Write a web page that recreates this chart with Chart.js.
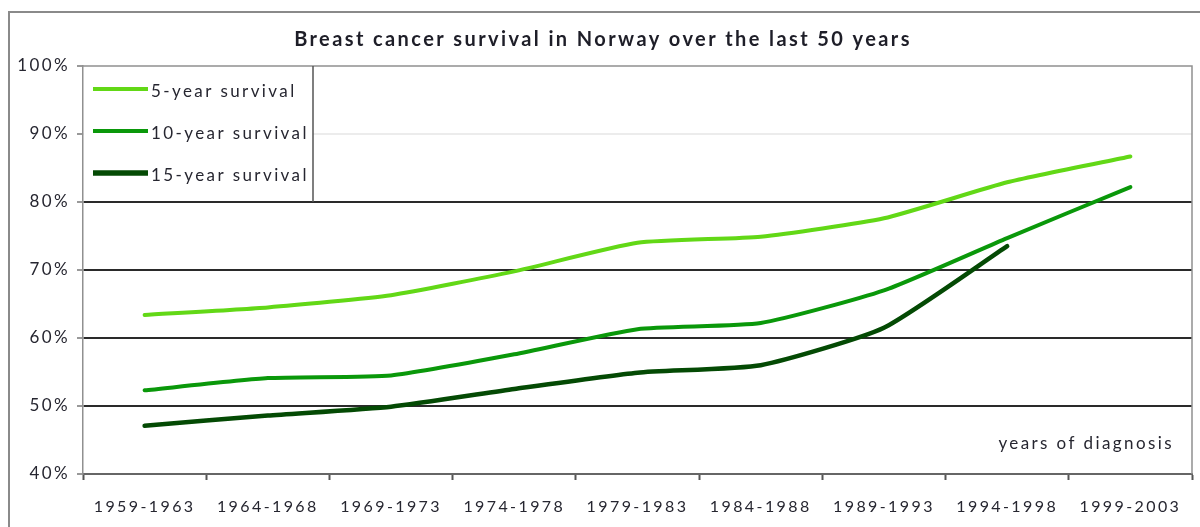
<!DOCTYPE html>
<html>
<head>
<meta charset="utf-8">
<script src="https://cdn.jsdelivr.net/npm/chart.js@4.4.1/dist/chart.umd.min.js"></script>
<style>
  html, body { margin: 0; padding: 0; background: #fff; }
  #wrap { position: relative; width: 1200px; height: 527px; }
</style>
</head>
<body>
<div id="wrap"><canvas id="survivalChart" width="1200" height="527"></canvas></div>
<script>
// periods of diagnosis
const periods = ['1959-1963', '1964-1968', '1969-1973', '1974-1978', '1979-1983',
                 '1984-1988', '1989-1993', '1994-1998', '1999-2003'];

// relative survival (%)
const surv5  = [63.4, 64.5, 66.3, 69.8, 74.0, 74.9, 77.6, 82.9, 86.7];
const surv10 = [52.3, 54.1, 54.5, 57.6, 61.3, 62.2, 67.0, 74.7, 82.2];
const surv15 = [47.1, 48.6, 49.9, 52.5, 54.9, 56.0, 61.5, 73.5, null];

const seriesNames = ['5-year survival', '10-year survival', '15-year survival'];
const seriesColors = ['#62d816', '#0a980a', '#044a04'];

const yTicks = [40, 50, 60, 70, 80, 90, 100];

const FONT = 'Lato, "Open Sans", sans-serif';
const TEXT = '#262630';

// outer frame, title, legend box and the in-plot note
const decor = {
    id: 'decor',
    beforeDraw(chart) {
        // wide spacing like the source image's text
        chart.ctx.letterSpacing = '2.4px';
    },
    afterDraw(chart) {
        const c = chart.ctx;
        const a = chart.chartArea;
        c.save();

        // outer frame
        c.strokeStyle = '#8a8a8a';
        c.lineWidth = 2;
        c.strokeRect(9, 12, 1300, 600);

        // plot frame: top and right
        c.strokeStyle = '#909090';
        c.lineWidth = 1.5;
        c.beginPath();
        c.moveTo(a.left, a.top);
        c.lineTo(a.right, a.top);
        c.lineTo(a.right, a.bottom);
        c.stroke();

        // title
        c.fillStyle = '#1e1e28';
        c.font = 'bold 20px ' + FONT;
        c.letterSpacing = '2.4px';
        c.textAlign = 'center';
        c.textBaseline = 'middle';
        c.fillText('Breast cancer survival in Norway over the last 50 years', 603, 40);

        // legend box
        const y80 = chart.scales.y.getPixelForValue(80);
        const boxRight = 313;
        c.fillStyle = '#fff';
        c.fillRect(a.left + 1, a.top + 1, boxRight - a.left - 1, y80 - a.top - 2);
        c.strokeStyle = '#555';
        c.lineWidth = 1.5;
        c.beginPath();
        c.moveTo(boxRight, a.top);
        c.lineTo(boxRight, y80);
        c.stroke();

        const rows = [89, 131, 173];
        const widths = [4, 4, 5.5];
        c.font = '17px ' + FONT;
        c.textAlign = 'left';
        seriesNames.forEach((name, i) => {
            c.strokeStyle = seriesColors[i];
            c.lineWidth = widths[i];
            c.lineCap = 'butt';
            c.beginPath();
            c.moveTo(93, rows[i]);
            c.lineTo(148, rows[i]);
            c.stroke();
            c.fillStyle = TEXT;
            c.fillText(name, 151, rows[i] + 3);
        });

        // axis note
        c.font = '17px ' + FONT;
        c.textAlign = 'right';
        c.fillStyle = TEXT;
        c.fillText('years of diagnosis', 1174, 444);

        c.restore();
    }
};

const ctx = document.getElementById('survivalChart');

new Chart(ctx, {
    type: 'line',
    data: {
        labels: periods,
        datasets: [
            { label: seriesNames[0], data: surv5,  borderColor: seriesColors[0], borderWidth: 4 },
            { label: seriesNames[1], data: surv10, borderColor: seriesColors[1], borderWidth: 4 },
            { label: seriesNames[2], data: surv15, borderColor: seriesColors[2], borderWidth: 4.5 },
        ]
    },
    options: {
        responsive: false,
        animation: false,
        devicePixelRatio: 1,
        layout: { padding: { left: 10, right: 8, top: 66, bottom: 0 } },
        elements: {
            point: { radius: 0 },
            line: { tension: 0.18, borderCapStyle: 'round', borderJoinStyle: 'round' }
        },
        spanGaps: false,
        scales: {
            x: {
                offset: true,
                grid: {
                    offset: true,
                    drawOnChartArea: false,
                    drawTicks: true,
                    tickLength: 6,
                    tickColor: '#555',
                    tickWidth: 2
                },
                border: { display: true, color: '#666', width: 2 },
                ticks: {
                    color: TEXT,
                    font: { family: FONT, size: 16 },
                    padding: 17,
                    maxRotation: 0,
                    autoSkip: false
                },
                afterFit(scale) { scale.height = 53; }
            },
            y: {
                min: 40,
                max: 100,
                afterBuildTicks(scale) { scale.ticks = yTicks.map(v => ({ value: v })); },
                grid: {
                    color: (c) => {
                        const v = c.tick && c.tick.value;
                        if (v === 100 || v === 40) return 'rgba(0,0,0,0)';
                        if (v === 90) return '#ececec';
                        return '#2a2a2a';
                    },
                    lineWidth: 2,
                    drawTicks: true,
                    tickLength: 6,
                    tickColor: '#777',
                    tickWidth: 1.5
                },
                border: { display: true, color: '#909090', width: 1.5 },
                ticks: {
                    color: TEXT,
                    font: { family: FONT, size: 17 },
                    padding: 7,
                    callback: (v) => v + '%'
                },
                afterFit(scale) { scale.width = 73; }
            }
        },
        plugins: {
            legend: { display: false },
            title: { display: false },
            tooltip: { enabled: false }
        }
    },
    plugins: [decor]
});
</script>
</body>
</html>
